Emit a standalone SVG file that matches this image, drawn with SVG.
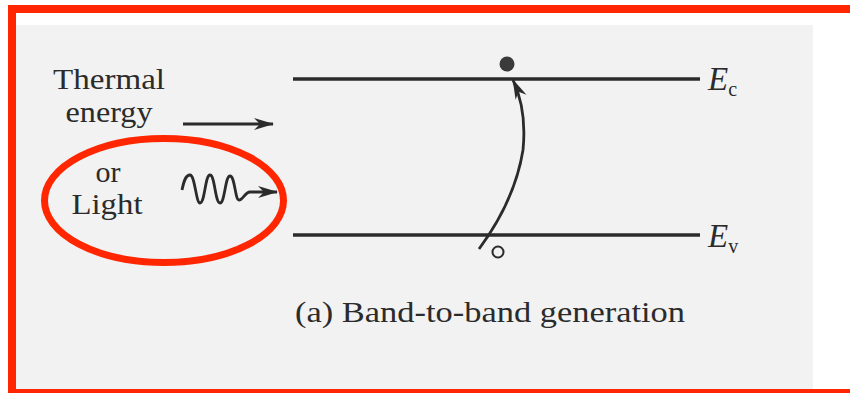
<svg xmlns="http://www.w3.org/2000/svg" width="850" height="393" viewBox="0 0 850 393">
  <style>
    .txt { font-family: "Liberation Serif", "Times New Roman", serif; fill: #2b2b2b; }
    .lbl { font-size: 30px; }
    .sym { font-size: 33px; font-style: italic; }
    .sub { font-size: 20px; font-style: normal; }
    .band { stroke: #2b2b2b; stroke-width: 3.5; fill: none; }
    .conn { stroke: #2b2b2b; stroke-width: 2.8; fill: none; }
    .red { stroke: #ff2600; fill: none; }
  </style>
  <defs>
    <marker id="arrow" viewBox="0 0 20 14" refX="19" refY="7" markerWidth="20" markerHeight="14" markerUnits="userSpaceOnUse" orient="auto">
      <path d="M0,1 L20,7 L0,13 L6,7 z" fill="#2b2b2b"/>
    </marker>
  </defs>

  <rect x="0" y="0" width="850" height="393" fill="#ffffff"/>
  <rect x="16" y="25" width="797" height="364" fill="#f2f2f2"/>

  <g id="thermal-label">
    <text class="txt lbl" x="109" y="89" text-anchor="middle" textLength="112" lengthAdjust="spacingAndGlyphs">Thermal</text>
    <text class="txt lbl" x="109" y="122" text-anchor="middle" textLength="87" lengthAdjust="spacingAndGlyphs">energy</text>
  </g>

  <g id="light-label">
    <text class="txt lbl" x="108" y="182" text-anchor="middle">or</text>
    <text class="txt lbl" x="107" y="214" text-anchor="middle" textLength="71" lengthAdjust="spacingAndGlyphs">Light</text>
  </g>

  <g id="conduction-band">
    <line class="band" x1="293" y1="79" x2="700" y2="79"/>
    <text class="txt sym" x="708" y="90">E<tspan class="sub" dy="6">c</tspan></text>
  </g>

  <g id="valence-band">
    <line class="band" x1="293" y1="235" x2="700" y2="235"/>
    <text class="txt sym" x="708" y="247">E<tspan class="sub" dy="6">v</tspan></text>
  </g>

  <g id="electron">
    <circle cx="507" cy="64" r="7.5" fill="#3a3a3a"/>
  </g>

  <g id="hole">
    <circle cx="498" cy="252" r="5.5" fill="none" stroke="#2b2b2b" stroke-width="2"/>
  </g>

  <g id="connectors">
    <line class="conn" x1="183" y1="124" x2="273" y2="124" marker-end="url(#arrow)"/>
    <path class="conn" d="M182,190 C184,180 186,175 190,175 C195,175 196,203 200,203 C205,203 205,175 210,175 C215,175 215,203 220,203 C225,203 225,176 230,176 C235,176 235,200 239,200 C243,200 245,192 250,192 L277,192" marker-end="url(#arrow)"/>
    <path class="conn" d="M479,249 Q515,200 523,150 Q527,110 513,80" marker-end="url(#arrow)"/>
  </g>

  <g id="caption">
    <text class="txt" font-size="30" x="295" y="322" textLength="390" lengthAdjust="spacingAndGlyphs">(a) Band-to-band generation</text>
  </g>

  <g id="highlight">
    <ellipse class="red" cx="164" cy="200.5" rx="119.5" ry="62" stroke-width="7"/>
    <rect class="red" x="12" y="9" width="846" height="384" stroke-width="8"/>
  </g>
</svg>
